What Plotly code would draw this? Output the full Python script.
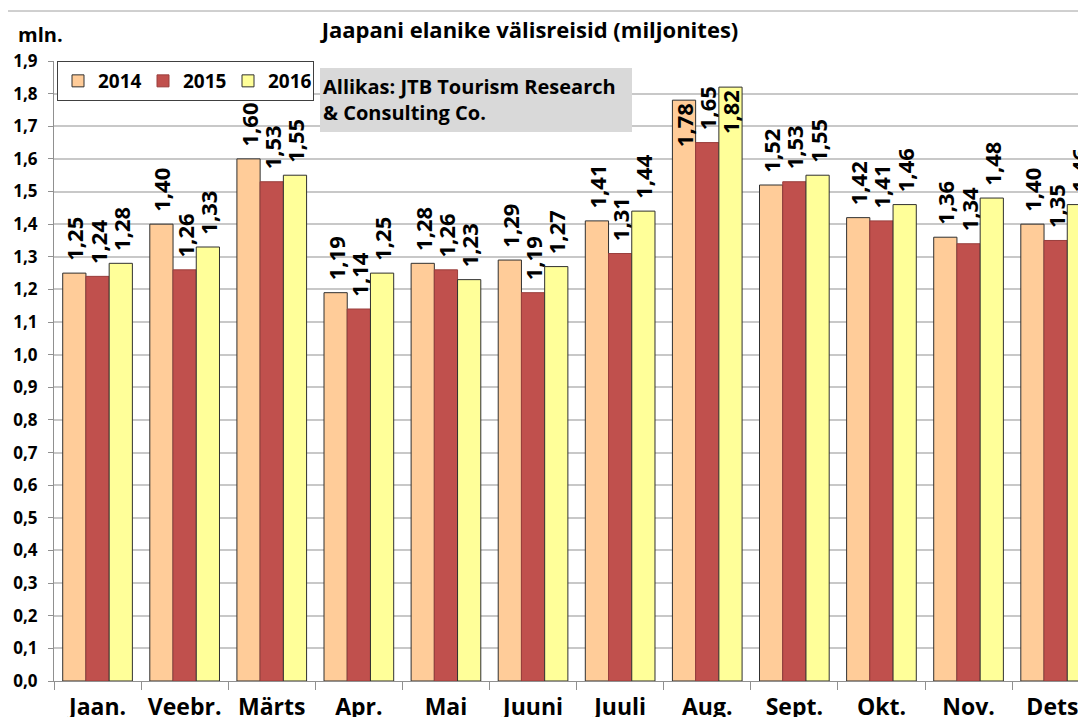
import plotly.graph_objects as go

months = ["Jaan.", "Veebr.", "Märts", "Apr.", "Mai", "Juuni", "Juuli", "Aug.", "Sept.", "Okt.", "Nov.", "Dets."]
years = ["2014", "2015", "2016"]
v2014 = [1.25, 1.40, 1.60, 1.19, 1.28, 1.29, 1.41, 1.78, 1.52, 1.42, 1.36, 1.40]
v2015 = [1.24, 1.26, 1.53, 1.14, 1.26, 1.19, 1.31, 1.65, 1.53, 1.41, 1.34, 1.35]
v2016 = [1.28, 1.33, 1.55, 1.25, 1.23, 1.27, 1.44, 1.82, 1.55, 1.46, 1.48, 1.46]
y_ticks = [round(i * 0.1, 1) for i in range(20)]

series = [v2014, v2015, v2016]
colors = ["#FFCC99", "#C0504D", "#FFFF99"]
edges = ["#303030", "#9A3E3C", "#303030"]
FONT = "Open Sans"
LBL = dict(family=FONT, size=22, color="black", weight="bold")

fig = go.Figure()
for name, vals, col, edge in zip(years, series, colors, edges):
    inside = [v > 1.7 and name != "2015" for v in vals]
    pos = ["inside" if i else "outside" for i in inside]
    # small leading gap between bar top and rotated outside labels
    tmpl = ["%{y:.2f}" if i else "\u00a0\u2009%{y:.2f}" for i in inside]
    fig.add_trace(go.Bar(
        x=months, y=vals, name=name,
        marker=dict(color=col, line=dict(color=edge, width=1)),
        texttemplate=tmpl, textposition=pos, textangle=-90,
        insidetextanchor="end", constraintext="none",
        textfont=LBL, insidetextfont=LBL, outsidetextfont=LBL,
        cliponaxis=False,
    ))

# page body has an 8px margin: figure is shifted by OFF in the window
OFF = 8
W, H = 1086 - OFF, 717 - OFF
L = 54 - OFF          # y axis at x=54 in window
T = 61 - OFF          # 1,9 gridline at y=61 in window
B = H - (681 - OFF)   # 0,0 at y=681 in window
pw = W - L
ph = H - T - B

def px(x):
    return (x - 54) / pw

def py(y):
    return (681 - y) / ph

fig.update_layout(
    width=W, height=H,
    margin=dict(l=L, r=0, t=T, b=B, pad=0, autoexpand=False),
    paper_bgcolor="white", plot_bgcolor="white",
    separators=", ",
    barmode="group", bargap=0.2, bargroupgap=0,
    font=dict(family=FONT, color="black"),
    title=dict(text="Jaapani elanike välisreisid (miljonites)", x=(530 - OFF) / W, xanchor="center",
               y=1 - (30 - OFF) / H, yanchor="middle",
               font=dict(family=FONT, size=22, color="black", weight="bold")),
    legend=dict(orientation="h", x=px(57), y=1, xanchor="left", yanchor="top",
                bgcolor="white", bordercolor="#404040", borderwidth=1,
                font=dict(family=FONT, size=19, color="black", weight="bold"),
                itemwidth=30, tracegroupgap=0, entrywidth=40, entrywidthmode="pixels"),
    xaxis=dict(range=[-0.5, -0.5 + pw / 87.1], showgrid=False, showline=True, automargin=False,
               linecolor="#909090", linewidth=1, ticks="outside", tickson="boundaries",
               ticklen=8, tickcolor="#909090", ticklabelstandoff=5,
               tickfont=dict(family=FONT, size=23, color="black", weight="bold")),
    yaxis=dict(range=[0, 1.9], tickvals=y_ticks, tickformat=".1f", showgrid=True, automargin=False,
               gridcolor="#c8c8c8", gridwidth=2, showline=True, linecolor="#909090",
               linewidth=1, ticks="outside", ticklen=5, tickcolor="#909090",
               ticklabelstandoff=7, zeroline=False,
               tickfont=dict(family=FONT, size=17, color="black", weight="bold")),
    shapes=[
        dict(type="rect", xref="paper", yref="paper", x0=px(7), x1=px(1200), y0=py(800), y1=py(11),
             line=dict(color="#a0a0a0", width=1), fillcolor="rgba(0,0,0,0)", layer="below"),
        dict(type="rect", xref="paper", yref="paper", x0=px(320), x1=px(632), y0=py(132), y1=py(68),
             line=dict(width=0), fillcolor="#D9D9D9", layer="above"),
    ],
    annotations=[
        dict(text="mln.", xref="paper", yref="paper", x=px(16), y=py(35), xanchor="left",
             yanchor="middle", showarrow=False,
             font=dict(family=FONT, size=20, color="black", weight="bold")),
        dict(text="Allikas: JTB Tourism Research<br>& Consulting Co.", xref="paper", yref="paper",
             x=px(321), y=py(100), xanchor="left", yanchor="middle", align="left", showarrow=False,
             font=dict(family=FONT, size=20, color="black", weight="bold")),
    ],
)

fig.write_html("out.html")
